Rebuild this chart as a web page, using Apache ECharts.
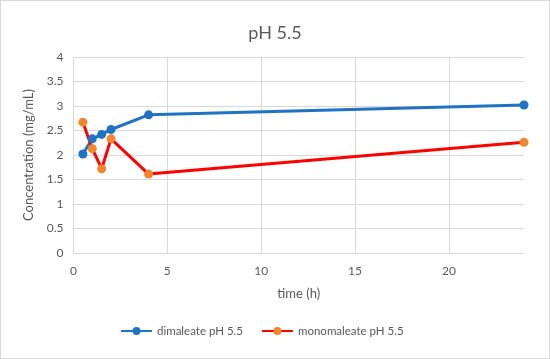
<!DOCTYPE html>
<html><head><meta charset="utf-8">
<script src="https://cdn.jsdelivr.net/npm/echarts@6/dist/echarts.min.js"></script>
<style>html,body{margin:0;padding:0;background:#fff}#c{width:548px;height:357px;border:1px solid #d9d9d9}</style>
</head><body><div id="c"></div>
<script>
const timeH = [0.5, 1, 1.5, 2, 4, 24];
const dimaleate = [2.02, 2.33, 2.42, 2.52, 2.82, 3.02];
const monomaleate = [2.67, 2.13, 1.72, 2.33, 1.61, 2.26];
const xTicks = [0, 5, 10, 15, 20];
const seriesNames = ['dimaleate pH 5.5', 'monomaleate pH 5.5'];

const font = 'Lato, "Open Sans", sans-serif';
const chart = echarts.init(document.getElementById('c'));
chart.setOption({
  animation: false,
  textStyle: {fontFamily: font},
  title: {text: 'pH 5.5', left: 'center', top: 18, textStyle: {fontFamily: font, fontSize: 18, fontWeight: 'normal', color: '#595959'}},
  grid: {left: 72.5, right: 25, top: 56, bottom: 105},
  legend: {bottom: 16, left: 114, itemWidth: 31, itemHeight: 10, itemGap: 18,
    textStyle: {fontFamily: font, fontSize: 11.5, color: '#595959'}, data: seriesNames},
  xAxis: {type: 'value', min: 0, max: 24, name: 'time (h)', nameLocation: 'middle', nameGap: 34,
    nameTextStyle: {fontFamily: font, fontSize: 13, color: '#595959'},
    axisLine: {show: false}, axisTick: {show: false, customValues: xTicks},
    axisLabel: {customValues: xTicks, color: '#595959', fontSize: 12, margin: 12},
    splitLine: {show: true, lineStyle: {color: '#d9d9d9', width: 1}}},
  yAxis: {type: 'value', min: 0, max: 4, interval: 0.5, name: 'Concentration (mg/mL)', nameLocation: 'middle', nameGap: 38,
    nameTextStyle: {fontFamily: font, fontSize: 13, color: '#595959'},
    axisLine: {show: false}, axisTick: {show: false},
    axisLabel: {color: '#595959', fontSize: 12, margin: 10},
    splitLine: {lineStyle: {color: '#d9d9d9', width: 1}}},
  series: [
    {name: seriesNames[0], type: 'line', data: timeH.map((t,i)=>[t, dimaleate[i]]),
      symbol: 'circle', symbolSize: 9, lineStyle: {color: '#1f72c4', width: 3}, itemStyle: {color: '#1f72c4'}},
    {name: seriesNames[1], type: 'line', data: timeH.map((t,i)=>[t, monomaleate[i]]),
      symbol: 'circle', symbolSize: 9, lineStyle: {color: '#ff0000', width: 3}, itemStyle: {color: '#f5852f'}}
  ]
});
</script></body></html>
